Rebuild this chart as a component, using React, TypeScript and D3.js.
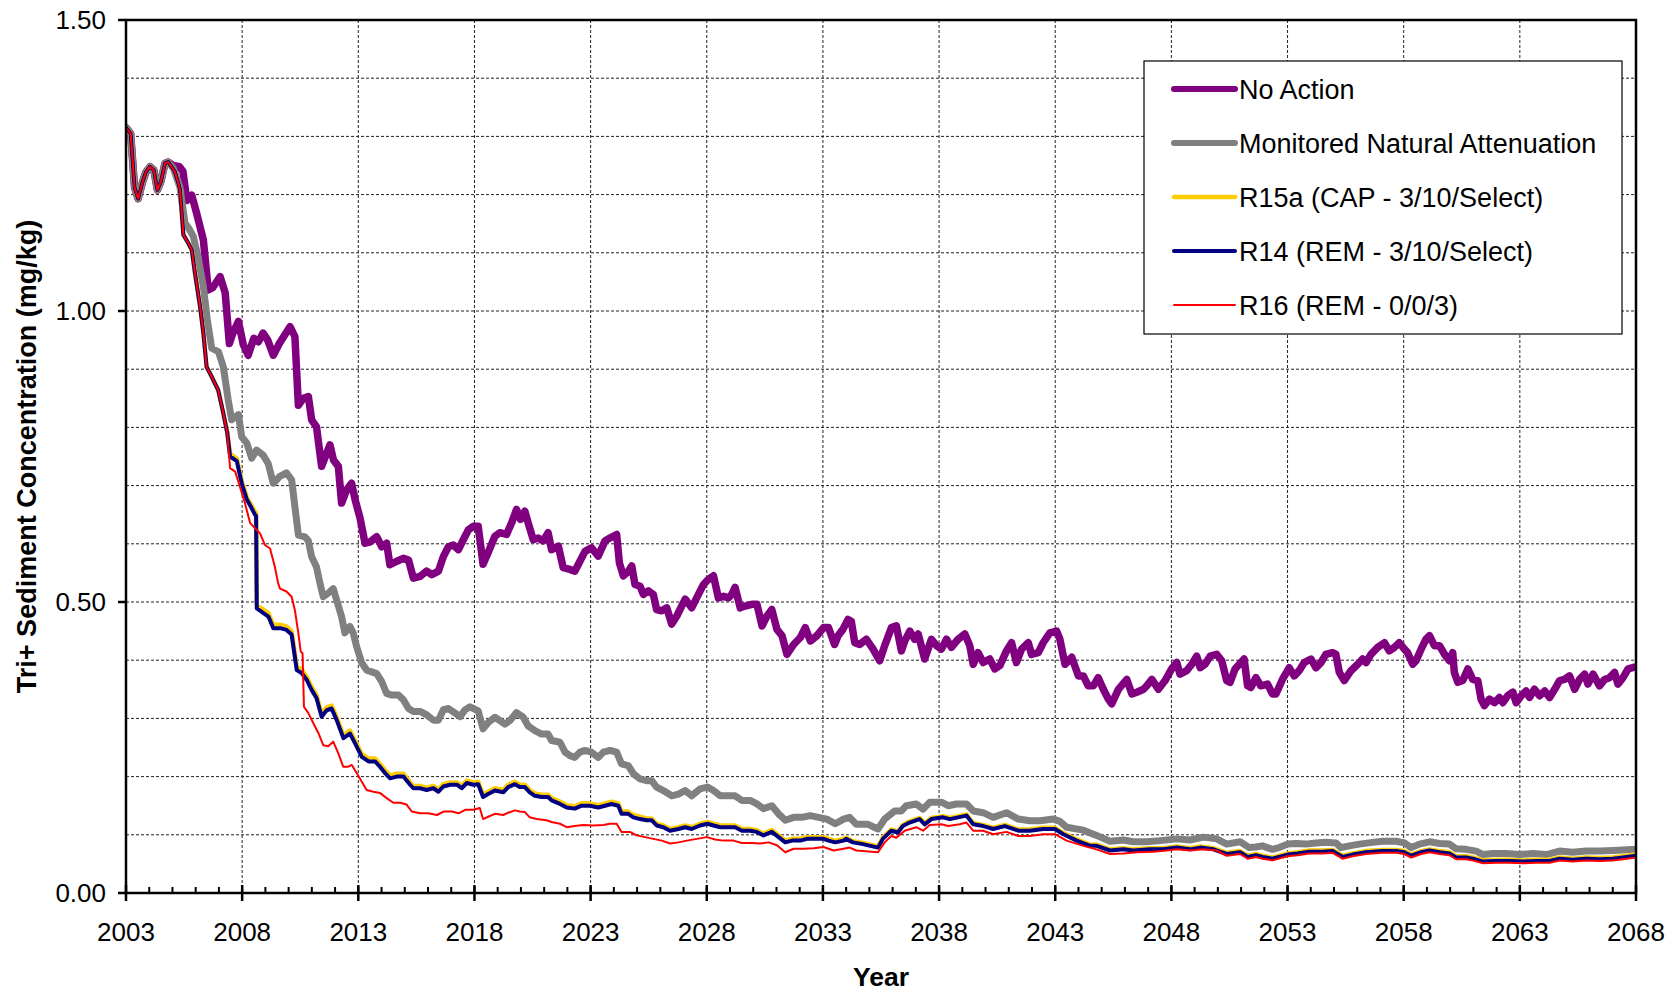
import React from 'react';
import * as d3 from 'd3';

// chart size (the reference is 1677 x 993)
const W = 1677;
const H = 993;
const plot = { left: 126, right: 1636, top: 20, bottom: 893 };

const xMajorTicks = [2003, 2008, 2013, 2018, 2023, 2028, 2033, 2038, 2043, 2048, 2053, 2058, 2063, 2068];
const yMajorTicks = [0, 0.5, 1.0, 1.5];
const yGridLines = [0.1, 0.2, 0.3, 0.4, 0.5, 0.6, 0.7, 0.8, 0.9, 1.0, 1.1, 1.2, 1.3, 1.4];

const legendLabels = [
  'No Action',
  'Monitored Natural Attenuation',
  'R15a (CAP - 3/10/Select)',
  'R14 (REM - 3/10/Select)',
  'R16 (REM - 0/0/3)',
];

// [year, mg/kg]
const noAction: [number, number][] = [
  [2003.0, 1.315], [2003.2, 1.305], [2003.37, 1.212], [2003.52, 1.193], [2003.7, 1.22], [2003.85, 1.238],
  [2004.03, 1.248], [2004.2, 1.242], [2004.35, 1.208], [2004.5, 1.222], [2004.68, 1.254], [2004.82, 1.256],
  [2005.04, 1.25], [2005.3, 1.248], [2005.45, 1.24], [2005.62, 1.19], [2005.83, 1.199], [2006.04, 1.168],
  [2006.33, 1.122], [2006.54, 1.036], [2006.73, 1.04], [2007.05, 1.059], [2007.27, 1.031], [2007.45, 0.944],
  [2007.6, 0.962], [2007.84, 0.982], [2008.05, 0.942], [2008.26, 0.924], [2008.5, 0.953], [2008.7, 0.947],
  [2008.9, 0.962], [2009.1, 0.95], [2009.34, 0.924], [2009.6, 0.944], [2010.06, 0.973], [2010.27, 0.956],
  [2010.42, 0.838], [2010.63, 0.85], [2010.85, 0.853], [2010.99, 0.813], [2011.2, 0.801], [2011.42, 0.733],
  [2011.64, 0.756], [2011.78, 0.77], [2011.93, 0.744], [2012.14, 0.733], [2012.28, 0.67], [2012.5, 0.693],
  [2012.71, 0.704], [2012.86, 0.676], [2013.07, 0.645], [2013.29, 0.601], [2013.5, 0.603], [2013.79, 0.612],
  [2014.01, 0.595], [2014.22, 0.601], [2014.36, 0.564], [2014.66, 0.57], [2014.94, 0.575], [2015.16, 0.572],
  [2015.37, 0.541], [2015.66, 0.544], [2015.94, 0.553], [2016.16, 0.547], [2016.45, 0.553], [2016.66, 0.578],
  [2016.88, 0.595], [2017.09, 0.598], [2017.31, 0.59], [2017.52, 0.607], [2017.74, 0.624], [2017.95, 0.63],
  [2018.16, 0.63], [2018.37, 0.565], [2018.59, 0.585], [2018.88, 0.613], [2019.09, 0.619], [2019.38, 0.616],
  [2019.6, 0.636], [2019.81, 0.659], [2019.98, 0.642], [2020.17, 0.656], [2020.31, 0.636], [2020.53, 0.607],
  [2020.74, 0.61], [2020.96, 0.605], [2021.17, 0.619], [2021.32, 0.59], [2021.61, 0.596], [2021.82, 0.559],
  [2022.11, 0.556], [2022.32, 0.553], [2022.54, 0.57], [2022.76, 0.587], [2023.04, 0.593], [2023.33, 0.579],
  [2023.62, 0.605], [2023.83, 0.61], [2024.12, 0.616], [2024.24, 0.567], [2024.41, 0.545], [2024.63, 0.553],
  [2024.77, 0.562], [2024.91, 0.53], [2025.13, 0.527], [2025.27, 0.513], [2025.49, 0.519], [2025.7, 0.513],
  [2025.84, 0.487], [2026.06, 0.485], [2026.28, 0.49], [2026.49, 0.462], [2026.71, 0.476], [2027.07, 0.505],
  [2027.35, 0.49], [2027.64, 0.513], [2027.86, 0.53], [2028.07, 0.539], [2028.29, 0.545], [2028.5, 0.507],
  [2028.72, 0.51], [2028.93, 0.507], [2029.08, 0.513], [2029.22, 0.525], [2029.44, 0.49], [2029.65, 0.493],
  [2029.94, 0.496], [2030.16, 0.496], [2030.38, 0.459], [2030.59, 0.476], [2030.8, 0.487], [2031.02, 0.453],
  [2031.24, 0.442], [2031.45, 0.41], [2031.74, 0.427], [2032.03, 0.439], [2032.24, 0.456], [2032.46, 0.433],
  [2032.74, 0.442], [2033.03, 0.456], [2033.24, 0.456], [2033.5, 0.427], [2033.65, 0.442], [2033.86, 0.453],
  [2034.08, 0.47], [2034.22, 0.467], [2034.37, 0.43], [2034.58, 0.427], [2034.87, 0.436], [2035.16, 0.419],
  [2035.44, 0.399], [2035.66, 0.425], [2035.95, 0.456], [2036.16, 0.459], [2036.38, 0.416], [2036.52, 0.433],
  [2036.74, 0.45], [2036.95, 0.436], [2037.1, 0.445], [2037.38, 0.402], [2037.67, 0.436], [2037.89, 0.425],
  [2038.1, 0.419], [2038.32, 0.436], [2038.53, 0.422], [2038.82, 0.436], [2039.11, 0.445], [2039.32, 0.425],
  [2039.47, 0.393], [2039.68, 0.413], [2039.9, 0.396], [2040.18, 0.402], [2040.4, 0.385], [2040.62, 0.391],
  [2040.9, 0.416], [2041.12, 0.43], [2041.33, 0.396], [2041.55, 0.419], [2041.84, 0.43], [2041.98, 0.41],
  [2042.27, 0.413], [2042.48, 0.43], [2042.77, 0.447], [2043.06, 0.45], [2043.2, 0.436], [2043.42, 0.393],
  [2043.71, 0.405], [2044.0, 0.373], [2044.21, 0.373], [2044.42, 0.356], [2044.64, 0.356], [2044.85, 0.37],
  [2045.07, 0.35], [2045.29, 0.333], [2045.43, 0.325], [2045.72, 0.35], [2046.08, 0.367], [2046.3, 0.342],
  [2046.51, 0.345], [2046.8, 0.35], [2046.94, 0.356], [2047.16, 0.367], [2047.44, 0.35], [2047.73, 0.365],
  [2048.01, 0.385], [2048.23, 0.396], [2048.37, 0.376], [2048.66, 0.382], [2048.88, 0.393], [2049.09, 0.407],
  [2049.24, 0.387], [2049.45, 0.393], [2049.67, 0.407], [2049.95, 0.41], [2050.17, 0.399], [2050.38, 0.365],
  [2050.53, 0.362], [2050.74, 0.385], [2051.13, 0.402], [2051.28, 0.356], [2051.42, 0.353], [2051.64, 0.37],
  [2051.85, 0.356], [2052.14, 0.359], [2052.35, 0.342], [2052.5, 0.342], [2052.78, 0.367], [2053.07, 0.387],
  [2053.29, 0.373], [2053.5, 0.382], [2053.72, 0.396], [2054.01, 0.402], [2054.22, 0.387], [2054.44, 0.396],
  [2054.65, 0.41], [2054.94, 0.413], [2055.08, 0.41], [2055.23, 0.379], [2055.44, 0.365], [2055.73, 0.382],
  [2056.02, 0.393], [2056.23, 0.402], [2056.38, 0.396], [2056.59, 0.41], [2056.88, 0.422], [2057.17, 0.43],
  [2057.38, 0.416], [2057.6, 0.422], [2057.81, 0.43], [2058.03, 0.419], [2058.17, 0.413], [2058.39, 0.393],
  [2058.53, 0.399], [2058.75, 0.419], [2058.96, 0.436], [2059.11, 0.442], [2059.32, 0.425], [2059.54, 0.425],
  [2059.76, 0.41], [2059.97, 0.399], [2060.11, 0.413], [2060.18, 0.379], [2060.33, 0.362], [2060.54, 0.365],
  [2060.76, 0.385], [2060.97, 0.367], [2061.19, 0.365], [2061.33, 0.333], [2061.47, 0.322], [2061.69, 0.333],
  [2061.91, 0.327], [2062.12, 0.336], [2062.27, 0.327], [2062.48, 0.339], [2062.7, 0.345], [2062.84, 0.327],
  [2063.06, 0.339], [2063.27, 0.347], [2063.42, 0.336], [2063.63, 0.35], [2063.85, 0.339], [2064.07, 0.347],
  [2064.28, 0.336], [2064.5, 0.35], [2064.71, 0.365], [2064.93, 0.367], [2065.14, 0.373], [2065.36, 0.35],
  [2065.57, 0.367], [2065.79, 0.376], [2065.93, 0.359], [2066.15, 0.376], [2066.43, 0.356], [2066.65, 0.367],
  [2066.86, 0.37], [2067.08, 0.379], [2067.22, 0.359], [2067.44, 0.37], [2067.66, 0.385], [2067.94, 0.388],
  [2068.0, 0.388],
];

const mna: [number, number][] = [
  [2003.0, 1.315], [2003.2, 1.305], [2003.37, 1.212], [2003.52, 1.193], [2003.7, 1.22], [2003.85, 1.238],
  [2004.03, 1.248], [2004.2, 1.242], [2004.35, 1.208], [2004.5, 1.222], [2004.68, 1.254], [2004.82, 1.256],
  [2005.04, 1.245], [2005.32, 1.213], [2005.54, 1.151], [2005.7, 1.142], [2005.9, 1.128], [2006.1, 1.093],
  [2006.33, 1.042], [2006.5, 0.985], [2006.69, 0.936], [2006.98, 0.93], [2007.19, 0.904], [2007.4, 0.847],
  [2007.55, 0.813], [2007.84, 0.822], [2007.98, 0.784], [2008.2, 0.773], [2008.41, 0.747], [2008.62, 0.761],
  [2008.91, 0.752], [2009.12, 0.738], [2009.34, 0.704], [2009.62, 0.716], [2009.91, 0.722], [2010.13, 0.71],
  [2010.27, 0.664], [2010.42, 0.615], [2010.7, 0.612], [2010.85, 0.605], [2010.99, 0.578], [2011.2, 0.56],
  [2011.35, 0.532], [2011.49, 0.509], [2011.7, 0.515], [2011.92, 0.523], [2012.07, 0.503], [2012.28, 0.475],
  [2012.42, 0.447], [2012.64, 0.458], [2012.78, 0.447], [2012.93, 0.423], [2013.15, 0.395], [2013.36, 0.383],
  [2013.58, 0.38], [2013.79, 0.377], [2014.01, 0.363], [2014.22, 0.343], [2014.44, 0.34], [2014.73, 0.34],
  [2014.94, 0.332], [2015.16, 0.317], [2015.37, 0.312], [2015.66, 0.312], [2015.95, 0.306], [2016.23, 0.297],
  [2016.45, 0.297], [2016.66, 0.315], [2016.88, 0.317], [2017.17, 0.309], [2017.38, 0.303], [2017.6, 0.315],
  [2017.81, 0.32], [2018.16, 0.313], [2018.37, 0.282], [2018.59, 0.293], [2018.88, 0.302], [2019.31, 0.29],
  [2019.52, 0.296], [2019.81, 0.31], [2020.1, 0.302], [2020.31, 0.287], [2020.6, 0.279], [2020.89, 0.273],
  [2021.17, 0.273], [2021.32, 0.262], [2021.68, 0.259], [2021.9, 0.242], [2022.11, 0.236], [2022.32, 0.233],
  [2022.54, 0.242], [2022.76, 0.245], [2023.04, 0.242], [2023.33, 0.233], [2023.55, 0.242], [2023.83, 0.245],
  [2024.12, 0.242], [2024.33, 0.222], [2024.62, 0.219], [2024.84, 0.205], [2025.13, 0.196], [2025.41, 0.193],
  [2025.63, 0.193], [2025.84, 0.182], [2026.13, 0.176], [2026.49, 0.167], [2026.78, 0.17], [2027.07, 0.176],
  [2027.35, 0.167], [2027.71, 0.179], [2028.03, 0.182], [2028.29, 0.176], [2028.58, 0.167], [2028.86, 0.167],
  [2029.22, 0.167], [2029.51, 0.159], [2029.87, 0.159], [2030.16, 0.153], [2030.44, 0.145], [2030.8, 0.15],
  [2031.09, 0.136], [2031.38, 0.125], [2031.74, 0.13], [2032.1, 0.13], [2032.45, 0.133], [2032.81, 0.13],
  [2033.17, 0.127], [2033.53, 0.119], [2033.89, 0.127], [2034.15, 0.13], [2034.44, 0.118], [2034.94, 0.118],
  [2035.37, 0.11], [2035.66, 0.127], [2036.09, 0.141], [2036.38, 0.141], [2036.59, 0.15], [2037.02, 0.153],
  [2037.31, 0.144], [2037.6, 0.156], [2038.1, 0.156], [2038.39, 0.15], [2038.75, 0.153], [2039.18, 0.153],
  [2039.47, 0.141], [2039.9, 0.138], [2040.33, 0.13], [2040.9, 0.138], [2041.41, 0.127], [2041.91, 0.124],
  [2042.34, 0.124], [2042.92, 0.127], [2043.2, 0.123], [2043.49, 0.113], [2044.21, 0.108], [2044.78, 0.099],
  [2045.36, 0.089], [2045.93, 0.091], [2046.36, 0.088], [2046.94, 0.088], [2047.51, 0.09], [2048.23, 0.093],
  [2048.8, 0.091], [2049.38, 0.096], [2049.95, 0.093], [2050.38, 0.084], [2050.96, 0.088], [2051.35, 0.078],
  [2051.64, 0.079], [2051.92, 0.081], [2052.35, 0.075], [2052.64, 0.078], [2053.0, 0.084], [2053.36, 0.085],
  [2053.79, 0.084], [2054.22, 0.086], [2054.65, 0.087], [2055.08, 0.086], [2055.3, 0.078], [2055.66, 0.081],
  [2056.09, 0.084], [2056.66, 0.087], [2057.1, 0.089], [2057.67, 0.089], [2058.03, 0.086], [2058.32, 0.078],
  [2058.68, 0.084], [2059.11, 0.088], [2059.54, 0.085], [2059.97, 0.084], [2060.26, 0.076], [2060.69, 0.075],
  [2061.12, 0.072], [2061.41, 0.066], [2061.84, 0.068], [2062.41, 0.068], [2062.99, 0.066], [2063.56, 0.068],
  [2064.14, 0.066], [2064.71, 0.072], [2065.28, 0.07], [2065.86, 0.072], [2066.43, 0.072], [2067.0, 0.073],
  [2067.44, 0.074], [2068.0, 0.075],
];

const r15a: [number, number][] = [
  [2003.0, 1.315], [2003.2, 1.305], [2003.37, 1.212], [2003.52, 1.193], [2003.7, 1.22], [2003.85, 1.238],
  [2004.03, 1.248], [2004.2, 1.242], [2004.35, 1.208], [2004.5, 1.222], [2004.68, 1.254], [2004.82, 1.256],
  [2005.1, 1.24], [2005.32, 1.21], [2005.47, 1.131], [2005.69, 1.116], [2005.83, 1.105], [2005.97, 1.065],
  [2006.19, 1.007], [2006.33, 0.962], [2006.47, 0.904], [2006.69, 0.887], [2006.97, 0.864], [2007.19, 0.824],
  [2007.36, 0.792], [2007.48, 0.755], [2007.77, 0.746], [2007.98, 0.708], [2008.2, 0.68], [2008.41, 0.665],
  [2008.55, 0.655], [2008.6, 0.653], [2008.63, 0.494], [2008.84, 0.489], [2009.13, 0.481], [2009.34, 0.461],
  [2009.63, 0.461], [2009.91, 0.458], [2010.13, 0.45], [2010.35, 0.389], [2010.56, 0.384], [2010.78, 0.371],
  [2010.99, 0.354], [2011.2, 0.34], [2011.42, 0.308], [2011.64, 0.319], [2011.85, 0.322], [2012.07, 0.302],
  [2012.36, 0.271], [2012.64, 0.279], [2012.86, 0.262], [2013.15, 0.239], [2013.44, 0.231], [2013.72, 0.231],
  [2013.93, 0.222], [2014.15, 0.211], [2014.37, 0.202], [2014.66, 0.205], [2014.94, 0.205], [2015.23, 0.19],
  [2015.37, 0.184], [2015.66, 0.184], [2015.94, 0.181], [2016.23, 0.184], [2016.45, 0.178], [2016.66, 0.187],
  [2016.95, 0.19], [2017.24, 0.19], [2017.45, 0.184], [2017.67, 0.193], [2017.95, 0.19], [2018.16, 0.191],
  [2018.37, 0.169], [2018.59, 0.174], [2018.88, 0.18], [2019.24, 0.177], [2019.45, 0.186], [2019.74, 0.191],
  [2019.95, 0.186], [2020.17, 0.186], [2020.38, 0.177], [2020.6, 0.171], [2020.89, 0.169], [2021.17, 0.169],
  [2021.32, 0.163], [2021.68, 0.157], [2021.97, 0.151], [2022.32, 0.149], [2022.61, 0.154], [2022.97, 0.154],
  [2023.33, 0.151], [2023.62, 0.154], [2023.9, 0.157], [2024.19, 0.154], [2024.33, 0.14], [2024.62, 0.14],
  [2024.84, 0.134], [2025.13, 0.131], [2025.41, 0.128], [2025.63, 0.128], [2025.84, 0.119], [2026.13, 0.116],
  [2026.42, 0.11], [2026.78, 0.113], [2027.07, 0.116], [2027.35, 0.113], [2027.71, 0.119], [2028.03, 0.122],
  [2028.29, 0.119], [2028.58, 0.116], [2028.86, 0.116], [2029.22, 0.116], [2029.51, 0.11], [2029.87, 0.11],
  [2030.16, 0.108], [2030.44, 0.102], [2030.8, 0.108], [2031.09, 0.099], [2031.38, 0.09], [2031.67, 0.093],
  [2032.03, 0.093], [2032.31, 0.096], [2032.67, 0.096], [2033.03, 0.096], [2033.24, 0.093], [2033.53, 0.09],
  [2033.89, 0.093], [2034.0, 0.095], [2034.29, 0.089], [2034.72, 0.086], [2035.37, 0.08], [2035.58, 0.095],
  [2035.94, 0.109], [2036.23, 0.106], [2036.44, 0.117], [2036.73, 0.123], [2037.16, 0.129], [2037.38, 0.12],
  [2037.67, 0.129], [2038.17, 0.132], [2038.46, 0.129], [2038.82, 0.132], [2039.18, 0.135], [2039.47, 0.12],
  [2039.9, 0.117], [2040.33, 0.112], [2040.83, 0.117], [2041.41, 0.109], [2041.91, 0.109], [2042.48, 0.112],
  [2042.99, 0.112], [2043.35, 0.103], [2043.92, 0.092], [2044.5, 0.083], [2044.78, 0.083], [2045.36, 0.075],
  [2045.93, 0.077], [2046.36, 0.075], [2047.08, 0.077], [2047.66, 0.077], [2048.23, 0.08], [2048.8, 0.077],
  [2049.24, 0.08], [2049.81, 0.077], [2050.38, 0.069], [2050.96, 0.072], [2051.28, 0.064], [2051.64, 0.067],
  [2051.92, 0.064], [2052.35, 0.061], [2053.0, 0.068], [2053.43, 0.07], [2053.93, 0.073], [2054.51, 0.073],
  [2054.94, 0.074], [2055.37, 0.064], [2055.8, 0.068], [2056.37, 0.072], [2057.1, 0.074], [2057.67, 0.074],
  [2058.03, 0.072], [2058.32, 0.066], [2058.75, 0.072], [2059.11, 0.075], [2059.54, 0.072], [2059.97, 0.07],
  [2060.26, 0.063], [2060.69, 0.063], [2060.98, 0.061], [2061.41, 0.056], [2061.98, 0.057], [2062.56, 0.057],
  [2063.13, 0.056], [2063.7, 0.057], [2064.28, 0.057], [2064.71, 0.061], [2065.28, 0.059], [2065.86, 0.061],
  [2066.43, 0.06], [2067.0, 0.061], [2067.44, 0.063], [2068.0, 0.066],
];

const r14: [number, number][] = [
  [2003.0, 1.315], [2003.2, 1.305], [2003.37, 1.212], [2003.52, 1.193], [2003.7, 1.22], [2003.85, 1.238],
  [2004.03, 1.248], [2004.2, 1.242], [2004.35, 1.208], [2004.5, 1.222], [2004.68, 1.254], [2004.82, 1.256],
  [2005.1, 1.24], [2005.32, 1.21], [2005.47, 1.131], [2005.69, 1.116], [2005.83, 1.105], [2005.97, 1.065],
  [2006.19, 1.007], [2006.33, 0.962], [2006.47, 0.904], [2006.69, 0.887], [2006.97, 0.864], [2007.19, 0.824],
  [2007.36, 0.79], [2007.48, 0.75], [2007.77, 0.742], [2007.98, 0.704], [2008.2, 0.676], [2008.41, 0.661],
  [2008.55, 0.65], [2008.6, 0.648], [2008.63, 0.489], [2008.84, 0.483], [2009.13, 0.475], [2009.34, 0.455],
  [2009.63, 0.455], [2009.91, 0.452], [2010.13, 0.444], [2010.35, 0.383], [2010.56, 0.378], [2010.78, 0.366],
  [2010.99, 0.349], [2011.2, 0.335], [2011.42, 0.303], [2011.64, 0.314], [2011.85, 0.317], [2012.07, 0.297],
  [2012.36, 0.266], [2012.64, 0.274], [2012.86, 0.257], [2013.15, 0.234], [2013.44, 0.226], [2013.72, 0.226],
  [2013.93, 0.217], [2014.15, 0.206], [2014.37, 0.197], [2014.66, 0.2], [2014.94, 0.2], [2015.23, 0.186],
  [2015.37, 0.18], [2015.66, 0.18], [2015.94, 0.177], [2016.23, 0.18], [2016.45, 0.174], [2016.66, 0.183],
  [2016.95, 0.186], [2017.24, 0.186], [2017.45, 0.18], [2017.67, 0.189], [2017.95, 0.186], [2018.16, 0.187],
  [2018.37, 0.165], [2018.59, 0.17], [2018.88, 0.176], [2019.24, 0.173], [2019.45, 0.182], [2019.74, 0.187],
  [2019.95, 0.182], [2020.17, 0.182], [2020.38, 0.173], [2020.6, 0.167], [2020.89, 0.165], [2021.17, 0.165],
  [2021.32, 0.159], [2021.68, 0.153], [2021.97, 0.147], [2022.32, 0.145], [2022.61, 0.15], [2022.97, 0.15],
  [2023.33, 0.147], [2023.62, 0.15], [2023.9, 0.153], [2024.19, 0.15], [2024.33, 0.136], [2024.62, 0.136],
  [2024.84, 0.13], [2025.13, 0.127], [2025.41, 0.125], [2025.63, 0.125], [2025.84, 0.116], [2026.13, 0.113],
  [2026.42, 0.107], [2026.78, 0.11], [2027.07, 0.113], [2027.35, 0.11], [2027.71, 0.116], [2028.03, 0.119],
  [2028.29, 0.116], [2028.58, 0.113], [2028.86, 0.113], [2029.22, 0.113], [2029.51, 0.107], [2029.87, 0.107],
  [2030.16, 0.105], [2030.44, 0.099], [2030.8, 0.105], [2031.09, 0.096], [2031.38, 0.087], [2031.67, 0.09],
  [2032.03, 0.09], [2032.31, 0.093], [2032.67, 0.093], [2033.03, 0.093], [2033.24, 0.09], [2033.53, 0.087],
  [2033.89, 0.09], [2034.0, 0.093], [2034.29, 0.087], [2034.72, 0.084], [2035.37, 0.078], [2035.58, 0.093],
  [2035.94, 0.107], [2036.23, 0.104], [2036.44, 0.115], [2036.73, 0.121], [2037.16, 0.127], [2037.38, 0.118],
  [2037.67, 0.127], [2038.17, 0.13], [2038.46, 0.127], [2038.82, 0.13], [2039.18, 0.133], [2039.47, 0.118],
  [2039.9, 0.115], [2040.33, 0.11], [2040.83, 0.115], [2041.41, 0.107], [2041.91, 0.107], [2042.48, 0.11],
  [2042.99, 0.11], [2043.35, 0.101], [2043.92, 0.09], [2044.5, 0.081], [2044.78, 0.081], [2045.36, 0.073],
  [2045.93, 0.075], [2046.36, 0.073], [2047.08, 0.075], [2047.66, 0.075], [2048.23, 0.078], [2048.8, 0.075],
  [2049.24, 0.078], [2049.81, 0.075], [2050.38, 0.067], [2050.96, 0.07], [2051.28, 0.062], [2051.64, 0.065],
  [2051.92, 0.062], [2052.35, 0.059], [2053.0, 0.066], [2053.43, 0.068], [2053.93, 0.071], [2054.51, 0.071],
  [2054.94, 0.072], [2055.37, 0.062], [2055.8, 0.066], [2056.37, 0.07], [2057.1, 0.072], [2057.67, 0.072],
  [2058.03, 0.07], [2058.32, 0.064], [2058.75, 0.07], [2059.11, 0.073], [2059.54, 0.07], [2059.97, 0.068],
  [2060.26, 0.061], [2060.69, 0.061], [2060.98, 0.059], [2061.41, 0.054], [2061.98, 0.055], [2062.56, 0.055],
  [2063.13, 0.054], [2063.7, 0.055], [2064.28, 0.055], [2064.71, 0.059], [2065.28, 0.057], [2065.86, 0.059],
  [2066.43, 0.058], [2067.0, 0.059], [2067.44, 0.061], [2068.0, 0.064],
];

const r16: [number, number][] = [
  [2003.0, 1.315], [2003.2, 1.305], [2003.37, 1.212], [2003.52, 1.193], [2003.7, 1.22], [2003.85, 1.238],
  [2004.03, 1.248], [2004.2, 1.242], [2004.35, 1.208], [2004.5, 1.222], [2004.68, 1.254], [2004.82, 1.256],
  [2005.1, 1.24], [2005.32, 1.21], [2005.47, 1.131], [2005.69, 1.116], [2005.83, 1.105], [2005.97, 1.065],
  [2006.19, 1.007], [2006.33, 0.962], [2006.47, 0.904], [2006.69, 0.887], [2006.97, 0.864], [2007.19, 0.824],
  [2007.36, 0.79], [2007.48, 0.73], [2007.7, 0.724], [2007.92, 0.696], [2008.12, 0.67], [2008.34, 0.636],
  [2008.55, 0.627], [2008.77, 0.618], [2008.98, 0.598], [2009.2, 0.592], [2009.41, 0.56], [2009.55, 0.532],
  [2009.63, 0.523], [2009.91, 0.518], [2010.13, 0.509], [2010.27, 0.486], [2010.42, 0.446], [2010.52, 0.415],
  [2010.6, 0.412], [2010.66, 0.32], [2010.85, 0.309], [2011.06, 0.292], [2011.28, 0.275], [2011.49, 0.254],
  [2011.7, 0.252], [2011.92, 0.26], [2012.14, 0.24], [2012.35, 0.217], [2012.57, 0.217], [2012.72, 0.22],
  [2012.93, 0.206], [2013.15, 0.191], [2013.36, 0.177], [2013.65, 0.174], [2013.93, 0.172], [2014.22, 0.163],
  [2014.51, 0.155], [2014.8, 0.155], [2015.08, 0.152], [2015.3, 0.14], [2015.66, 0.137], [2016.02, 0.137],
  [2016.38, 0.134], [2016.67, 0.14], [2017.03, 0.14], [2017.32, 0.137], [2017.6, 0.143], [2017.95, 0.143],
  [2018.23, 0.146], [2018.37, 0.127], [2018.59, 0.131], [2018.88, 0.136], [2019.24, 0.134], [2019.45, 0.138],
  [2019.74, 0.142], [2019.95, 0.14], [2020.17, 0.139], [2020.38, 0.13], [2020.67, 0.127], [2021.1, 0.125],
  [2021.32, 0.122], [2021.68, 0.119], [2021.97, 0.113], [2022.32, 0.115], [2022.68, 0.117], [2023.11, 0.116],
  [2023.55, 0.117], [2023.83, 0.119], [2024.12, 0.119], [2024.33, 0.105], [2024.69, 0.105], [2024.98, 0.099],
  [2025.34, 0.096], [2025.7, 0.093], [2026.06, 0.09], [2026.42, 0.085], [2026.78, 0.087], [2027.14, 0.09],
  [2027.57, 0.093], [2028.0, 0.096], [2028.36, 0.092], [2028.72, 0.09], [2029.15, 0.09], [2029.51, 0.086],
  [2029.94, 0.086], [2030.3, 0.085], [2030.66, 0.087], [2031.02, 0.082], [2031.38, 0.07], [2031.74, 0.076],
  [2032.17, 0.076], [2032.6, 0.077], [2033.03, 0.079], [2033.46, 0.073], [2033.89, 0.076], [2034.15, 0.078],
  [2034.44, 0.073], [2035.37, 0.07], [2035.66, 0.087], [2035.94, 0.098], [2036.16, 0.095], [2036.52, 0.107],
  [2037.02, 0.113], [2037.31, 0.107], [2037.6, 0.117], [2038.1, 0.118], [2038.39, 0.115], [2038.89, 0.118],
  [2039.18, 0.121], [2039.47, 0.107], [2039.9, 0.107], [2040.33, 0.101], [2040.9, 0.105], [2041.41, 0.098],
  [2041.91, 0.098], [2042.48, 0.101], [2042.99, 0.101], [2043.49, 0.09], [2044.21, 0.081], [2044.78, 0.075],
  [2045.36, 0.067], [2045.93, 0.068], [2046.51, 0.07], [2047.23, 0.071], [2047.8, 0.073], [2048.23, 0.075],
  [2048.8, 0.073], [2049.38, 0.075], [2049.95, 0.073], [2050.38, 0.064], [2050.96, 0.067], [2051.28, 0.059],
  [2051.64, 0.062], [2051.92, 0.059], [2052.35, 0.056], [2053.0, 0.063], [2053.43, 0.065], [2053.93, 0.068],
  [2054.51, 0.068], [2054.94, 0.069], [2055.37, 0.059], [2055.8, 0.063], [2056.37, 0.067], [2057.1, 0.069],
  [2057.67, 0.069], [2058.03, 0.067], [2058.32, 0.061], [2058.75, 0.067], [2059.11, 0.07], [2059.54, 0.067],
  [2059.97, 0.065], [2060.26, 0.058], [2060.69, 0.058], [2060.98, 0.056], [2061.41, 0.051], [2061.98, 0.052],
  [2062.56, 0.052], [2063.13, 0.051], [2063.7, 0.052], [2064.28, 0.052], [2064.71, 0.056], [2065.28, 0.054],
  [2065.86, 0.056], [2066.43, 0.055], [2067.0, 0.056], [2067.44, 0.058], [2068.0, 0.061],
];

const seriesData = [noAction, mna, r15a, r14, r16];
const seriesColors = ['#800080', '#808080', '#FFCC00', '#000080', '#FF0000'];
const seriesWidths = [7.5, 7, 4.5, 4, 2];

const FONT = 'Arial, "Liberation Sans", Helvetica, sans-serif';

export default function App() {
  const x = d3.scaleLinear().domain([2003, 2068]).range([plot.left, plot.right]);
  const y = d3.scaleLinear().domain([0, 1.5]).range([plot.bottom, plot.top]);
  const line = d3.line<[number, number]>().x(d => x(d[0])).y(d => y(d[1]));
  const minorYears = d3.range(2003, 2069, 1);

  const legend = { x: 1144, y: 61, w: 478, h: 273, row0: 89, rowGap: 54 };

  return (
    <svg width={W} height={H} style={{ position: 'absolute', left: 0, top: 0, background: '#fff' }} fontFamily={FONT}>
      <rect x={0} y={0} width={W} height={H} fill="#fff" />

      {/* gridlines */}
      {yGridLines.map(v => (
        <line key={'gy' + v} x1={plot.left} x2={plot.right} y1={y(v)} y2={y(v)}
          stroke="#222" strokeWidth={1} strokeDasharray="3,2" />
      ))}
      {xMajorTicks.slice(1, -1).map(t => (
        <line key={'gx' + t} x1={x(t)} x2={x(t)} y1={plot.top} y2={plot.bottom}
          stroke="#222" strokeWidth={1} strokeDasharray="3,2" />
      ))}

      {/* series */}
      <defs>
        <clipPath id="plotClip">
          <rect x={plot.left} y={plot.top - 4} width={plot.right - plot.left} height={plot.bottom - plot.top + 4} />
        </clipPath>
      </defs>
      <g clipPath="url(#plotClip)">
        {seriesData.map((s, i) => (
          <path key={'s' + i} d={line(s) || ''} fill="none" stroke={seriesColors[i]}
            strokeWidth={seriesWidths[i]} strokeLinejoin="round" strokeLinecap="round" />
        ))}
      </g>

      {/* frame */}
      <rect x={plot.left} y={plot.top} width={plot.right - plot.left} height={plot.bottom - plot.top}
        fill="none" stroke="#000" strokeWidth={2.5} />

      {/* x axis ticks */}
      {minorYears.map(t => (
        <line key={'mx' + t} x1={x(t)} x2={x(t)} y1={plot.bottom} y2={plot.bottom - 6} stroke="#000" strokeWidth={2} />
      ))}
      {xMajorTicks.map(t => (
        <g key={'xt' + t}>
          <line x1={x(t)} x2={x(t)} y1={plot.bottom - 8} y2={plot.bottom + 8} stroke="#000" strokeWidth={2.5} />
          <text x={x(t)} y={941} textAnchor="middle" fontSize={26} fill="#000">{t}</text>
        </g>
      ))}

      {/* y axis ticks */}
      {yMajorTicks.map(v => (
        <g key={'yt' + v}>
          <line x1={plot.left - 8} x2={plot.left} y1={y(v)} y2={y(v)} stroke="#000" strokeWidth={2.5} />
          <text x={106} y={y(v) + 9} textAnchor="end" fontSize={26} fill="#000">{v.toFixed(2)}</text>
        </g>
      ))}

      {/* axis titles */}
      <text x={(plot.left + plot.right) / 2} y={986} textAnchor="middle" fontSize={26.5} fontWeight="bold" fill="#000">Year</text>
      <text transform={`translate(36, ${(plot.top + plot.bottom) / 2}) rotate(-90)`} textAnchor="middle"
        fontSize={27} fontWeight="bold" fill="#000">Tri+ Sediment Concentration (mg/kg)</text>

      {/* legend */}
      <rect x={legend.x} y={legend.y} width={legend.w} height={legend.h} fill="#fff" stroke="#000" strokeWidth={1.2} />
      {legendLabels.map((label, i) => {
        const cy = legend.row0 + i * legend.rowGap;
        return (
          <g key={'lg' + i}>
            <line x1={1174} x2={1235} y1={cy} y2={cy} stroke={seriesColors[i]}
              strokeWidth={Math.min(seriesWidths[i], 6)} strokeLinecap="round" />
            <text x={1239} y={cy + 9.5} fontSize={27} fill="#000">{label}</text>
          </g>
        );
      })}
    </svg>
  );
}
